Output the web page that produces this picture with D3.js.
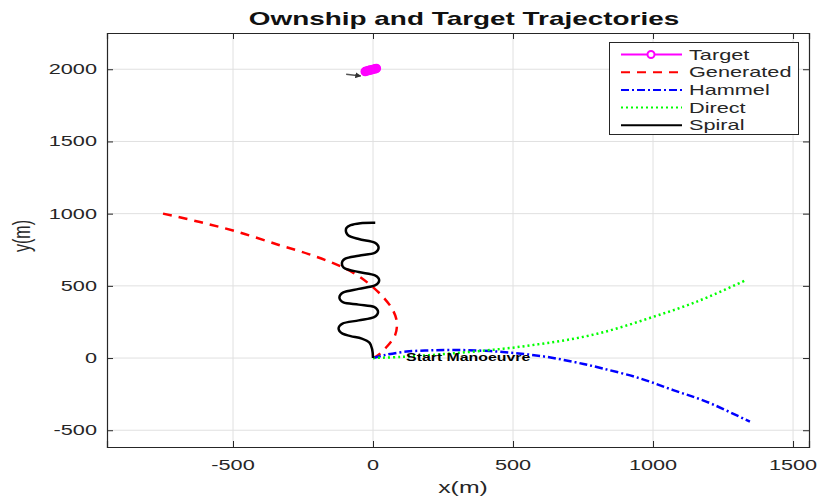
<!DOCTYPE html>
<html>
<head>
<meta charset="utf-8">
<script src="https://cdn.jsdelivr.net/npm/d3@7"></script>
<style>
  body { margin: 0; background: #fff; }
  text { font-family: "Liberation Sans", Arial, sans-serif; fill: #262626; }
</style>
</head>
<body>
<svg id="chart" width="824" height="500"></svg>
<script>
// values
let targetPts = [[-28, 1984], [-22, 1988], [-16, 1991], [-10, 1994], [-4, 1997], [2, 2000], [8, 2003], [12, 2006]];
let arrowPts = [[-96, 1966], [-44, 1954]];
let generatedPts = [[-750, 1000], [-618, 942], [-482, 873], [-339, 785], [-230, 720], [-140, 655], [-70, 590],
     [-15, 515], [35, 425], [70, 335], [85, 251], [79, 159], [49, 78], [19, 21], [0, 0]];
let hammelPts = [[0, 0], [40, 20], [120, 45], [220, 54], [320, 55], [420, 48], [520, 32], [620, 8], [720, -28],
     [820, -72], [954, -141], [1072, -222], [1192, -303], [1346, -441]];
let directPts = [[0, 0], [100, 8], [200, 20], [300, 35], [400, 52], [500, 72], [600, 98], [700, 128], [800, 168],
     [900, 222], [1000, 285], [1100, 350], [1200, 425], [1332, 540]];
let spiralPts = [[0, 0], [-3, 60], [-12, 105], [-40, 135], [-80, 152],
     [-109, 169], [-120, 187], [-123, 204], [-120, 221], [-109, 239], [-51, 261],
     [4, 284], [15, 302], [18, 319], [15, 336], [4, 354], [-51, 370],
     [-106, 385], [-117, 403], [-120, 420], [-117, 437], [-106, 455], [-51, 479],
     [7, 503], [19, 521], [22, 538], [19, 555], [7, 573], [-51, 596],
     [-99, 619], [-109, 637], [-111, 654], [-109, 671], [-99, 689], [-51, 709],
     [6, 729], [17, 747], [20, 764], [17, 781], [6, 799], [-51, 824],
     [-88, 849], [-95, 867], [-97, 884], [-95, 901], [-80, 920], [-45, 934], [8, 937]];
let xTicks = [-500, 0, 500, 1000, 1500];
let yTicks = [-500, 0, 500, 1000, 1500, 2000];
let legendNames = ["Target", "Generated", "Hammel", "Direct", "Spiral"];

// picture is stretched sideways, so text gets a horizontal scale
const SX = 1.55;
const pLeft = 107, pRight = 809, pTop = 33, pBottom = 447;

let svg = d3.select("#chart");
let x = d3.scaleLinear().domain([-950, 1557]).range([pLeft, pRight]);
let y = d3.scaleLinear().domain([-616, 2251]).range([pBottom, pTop]);

function addText(g, tx, ty, str, size, anchor, bold, rot, sx) {
     let t = g.append("text")
          .attr("transform", `translate(${tx},${ty}) scale(${sx || SX},1)` + (rot ? ` rotate(${rot})` : ""))
          .attr("font-size", size)
          .attr("text-anchor", anchor)
          .text(str);
     if (bold) t.attr("font-weight", "bold");
     return t;
}

// grid
let grid = svg.append("g");
xTicks.forEach(v => {
     grid.append("line").attr("x1", x(v)).attr("x2", x(v)).attr("y1", pTop).attr("y2", pBottom)
          .attr("stroke", "#e0e0e0").attr("stroke-width", 1);
});
yTicks.forEach(v => {
     grid.append("line").attr("x1", pLeft).attr("x2", pRight).attr("y1", y(v)).attr("y2", y(v))
          .attr("stroke", "#e0e0e0").attr("stroke-width", 1);
});

// axes (ticks inside like matlab)
let xAxis = svg.append("g").attr("transform", `translate(0,${pBottom})`)
     .call(d3.axisBottom(x).tickValues(xTicks).tickSize(-6).tickFormat(""));
let xAxisTop = svg.append("g").attr("transform", `translate(0,${pTop})`)
     .call(d3.axisTop(x).tickValues(xTicks).tickSize(-6).tickFormat(""));
let yAxis = svg.append("g").attr("transform", `translate(${pLeft},0)`)
     .call(d3.axisLeft(y).tickValues(yTicks).tickSize(-6).tickFormat(""));
let yAxisR = svg.append("g").attr("transform", `translate(${pRight},0)`)
     .call(d3.axisRight(y).tickValues(yTicks).tickSize(-6).tickFormat(""));
[xAxis, xAxisTop, yAxis, yAxisR].forEach(a => {
     a.selectAll("path").attr("stroke", "#262626").attr("stroke-width", 1.2);
     a.selectAll("line").attr("stroke", "#262626");
});

let labels = svg.append("g");
xTicks.forEach(v => addText(labels, x(v), 470, v, 14, "middle"));
yTicks.forEach(v => addText(labels, 97, y(v) + 5, v, 14, "end"));
addText(labels, 463, 493, "x(m)", 16, "middle");
addText(labels, 30, 236, "y(m)", 16, "middle", false, -90);
addText(labels, 464, 25, "Ownship and Target Trajectories", 18, "middle", true).style("fill", "#111");

// trajectories
let line = d3.line().x(d => x(d[0])).y(d => y(d[1]));
let smooth = d3.line().x(d => x(d[0])).y(d => y(d[1])).curve(d3.curveCatmullRom);
let plot = svg.append("g");

plot.append("path").datum(generatedPts).attr("d", smooth)
     .attr("fill", "none").attr("stroke", "#ff0000").attr("stroke-width", 2.5).attr("stroke-dasharray", "9,7");
plot.append("path").datum(hammelPts).attr("d", smooth)
     .attr("fill", "none").attr("stroke", "#0000ff").attr("stroke-width", 2.5).attr("stroke-dasharray", "8,3,2,3");
plot.append("path").datum(directPts).attr("d", smooth)
     .attr("fill", "none").attr("stroke", "#00ff00").attr("stroke-width", 2.5).attr("stroke-dasharray", "2,3");
plot.append("path").datum(spiralPts).attr("d", smooth)
     .attr("fill", "none").attr("stroke", "#000").attr("stroke-width", 2.5);

// target heading arrow
svg.append("defs").append("marker").attr("id", "arr")
     .attr("viewBox", "0 0 10 10").attr("refX", 9).attr("refY", 5)
     .attr("markerWidth", 4).attr("markerHeight", 4).attr("orient", "auto")
     .append("path").attr("d", "M0,0L10,5L0,10z").attr("fill", "#333");
plot.append("path").datum(arrowPts).attr("d", line)
     .attr("stroke", "#555").attr("stroke-width", 1.5).attr("marker-end", "url(#arr)");

plot.append("path").datum(targetPts).attr("d", line)
     .attr("fill", "none").attr("stroke", "#ff00ff").attr("stroke-width", 2);
plot.selectAll(".tgt").data(targetPts).enter().append("circle")
     .attr("cx", d => x(d[0])).attr("cy", d => y(d[1])).attr("r", 4)
     .attr("fill", "#ff00ff").attr("stroke", "#ff00ff").attr("stroke-width", 1.5);

addText(plot, x(118), y(-20), "Start Manoeuvre", 11.5, "start", true, null, 1.38).style("fill", "#000");

// legend
let leg = svg.append("g");
leg.append("rect").attr("x", 609.5).attr("y", 42.5).attr("width", 189).attr("height", 92)
     .attr("fill", "#fff").attr("stroke", "#262626").attr("stroke-width", 1);
let legStyles = [
     { c: "#ff00ff", d: null },
     { c: "#ff0000", d: "9,7" },
     { c: "#0000ff", d: "8,3,2,3" },
     { c: "#00ff00", d: "2,3" },
     { c: "#000", d: null }
];
legendNames.forEach((n, i) => {
     let ly = 54.5 + i * 17.7;
     let l = leg.append("line").attr("x1", 621).attr("x2", 682).attr("y1", ly).attr("y2", ly)
          .attr("stroke", legStyles[i].c).attr("stroke-width", 2);
     if (legStyles[i].d) l.attr("stroke-dasharray", legStyles[i].d);
     if (i == 0) {
          leg.append("circle").attr("cx", 651).attr("cy", ly).attr("r", 3.5)
               .attr("fill", "#fff").attr("stroke", "#ff00ff").attr("stroke-width", 2);
     }
     addText(leg, 689, ly + 5, n, 14, "start");
});
</script>
</body>
</html>
